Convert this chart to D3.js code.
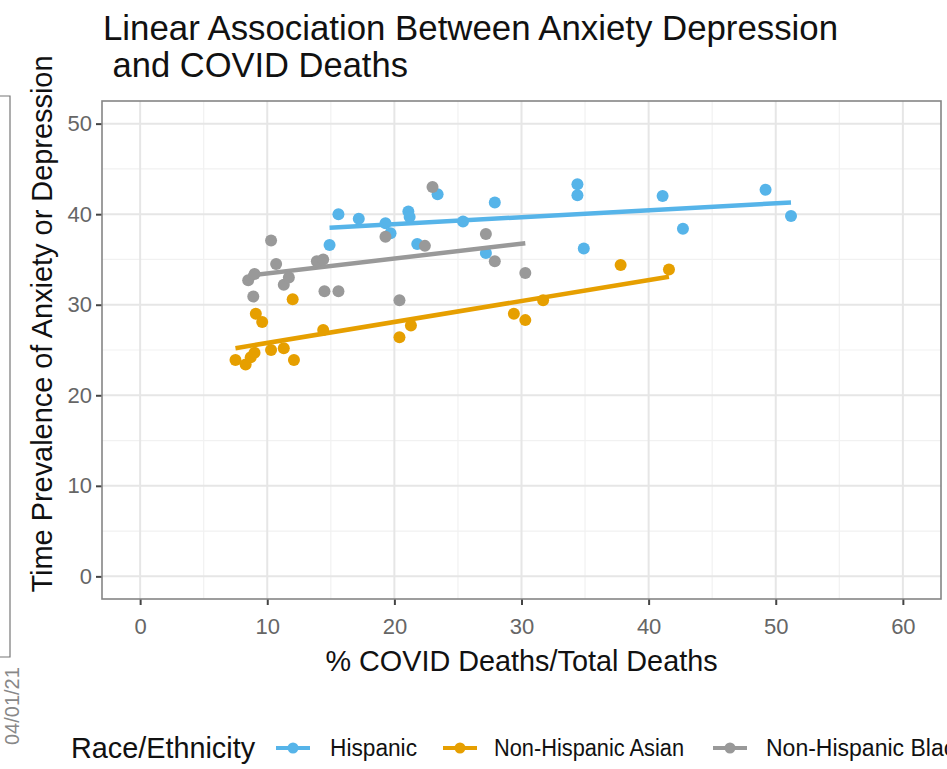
<!DOCTYPE html>
<html>
<head>
<meta charset="utf-8">
<script src="https://cdn.jsdelivr.net/npm/d3@7"></script>
<style>
  body { margin: 0; background: #fff; }
  text { font-family: "Liberation Sans", Arial, sans-serif; }
</style>
</head>
<body>
<svg id="chart" width="947" height="769"></svg>
<script>
// Series names and colours (ggplot colour-blind palette)
const seriesNames = ["Hispanic", "Non-Hispanic Asian", "Non-Hispanic Black"]
const seriesColors = ["#56B4E9", "#E69F00", "#999999"]

// Hispanic points: % covid deaths vs prevalence
const hispX = [15.6, 17.2, 14.9, 19.3, 19.7, 21.1, 21.2, 21.8, 23.4, 25.4, 27.9, 27.2, 34.4, 34.4, 34.9, 41.1, 42.7, 49.2, 51.2]
const hispY = [40.0, 39.5, 36.6, 39.0, 37.9, 40.3, 39.7, 36.7, 42.2, 39.2, 41.3, 35.7, 43.3, 42.1, 36.2, 42.0, 38.4, 42.7, 39.8]

// Non-Hispanic Asian points
const asianX = [7.5, 8.3, 8.7, 9.0, 9.1, 9.6, 10.3, 11.3, 12.0, 12.1, 14.4, 20.4, 21.3, 29.4, 30.3, 31.7, 37.8, 41.6]
const asianY = [23.9, 23.4, 24.2, 24.7, 29.0, 28.1, 25.0, 25.2, 30.6, 23.9, 27.2, 26.4, 27.7, 29.0, 28.3, 30.5, 34.4, 33.9]

// Non-Hispanic Black points
const blackX = [8.5, 8.9, 9.0, 10.3, 10.7, 11.3, 11.7, 13.9, 14.4, 14.5, 15.6, 19.3, 20.4, 22.4, 23.0, 27.2, 27.9, 30.3]
const blackY = [32.7, 30.9, 33.4, 37.1, 34.5, 32.2, 33.0, 34.8, 35.0, 31.5, 31.5, 37.5, 30.5, 36.5, 43.0, 37.8, 34.8, 33.5]

// Fitted lines (lm), value at the left and right end of each series
const fitStartY = [38.5, 25.2, 33.2]
const fitEndY = [41.3, 33.1, 36.8]

const xTicks = [0, 10, 20, 30, 40, 50, 60]
const yTicks = [0, 10, 20, 30, 40, 50]
const xMinor = [5, 15, 25, 35, 45, 55]
const yMinor = [5, 15, 25, 35, 45]

const series = [
    { xs: hispX, ys: hispY },
    { xs: asianX, ys: asianY },
    { xs: blackX, ys: blackY },
]

const svg = d3.select("#chart")

// panel geometry
const panel = { left: 102, top: 101, right: 941, bottom: 599 }
const x = d3.scaleLinear().domain([-3, 63]).range([panel.left, panel.right])
const y = d3.scaleLinear().domain([-2.5, 52.5]).range([panel.bottom, panel.top])

// Grid
const grid = svg.append("g")
grid.selectAll(".xminor").data(xMinor).enter().append("line")
    .attr("x1", d => x(d)).attr("x2", d => x(d))
    .attr("y1", panel.top).attr("y2", panel.bottom)
    .attr("stroke", "#f1f1f1").attr("stroke-width", 1.2)
grid.selectAll(".yminor").data(yMinor).enter().append("line")
    .attr("y1", d => y(d)).attr("y2", d => y(d))
    .attr("x1", panel.left).attr("x2", panel.right)
    .attr("stroke", "#f1f1f1").attr("stroke-width", 1.2)
grid.selectAll(".xmajor").data(xTicks).enter().append("line")
    .attr("x1", d => x(d)).attr("x2", d => x(d))
    .attr("y1", panel.top).attr("y2", panel.bottom)
    .attr("stroke", "#e6e6e6").attr("stroke-width", 2)
grid.selectAll(".ymajor").data(yTicks).enter().append("line")
    .attr("y1", d => y(d)).attr("y2", d => y(d))
    .attr("x1", panel.left).attr("x2", panel.right)
    .attr("stroke", "#e6e6e6").attr("stroke-width", 2)

// Axes
const xAxis = svg.append("g")
    .attr("transform", `translate(0,${panel.bottom})`)
    .call(d3.axisBottom(x).tickValues(xTicks).tickSize(6).tickPadding(13))
const yAxis = svg.append("g")
    .attr("transform", `translate(${panel.left},0)`)
    .call(d3.axisLeft(y).tickValues(yTicks).tickSize(6).tickPadding(4))
for (const ax of [xAxis, yAxis]) {
    ax.select(".domain").remove()
    ax.selectAll(".tick line").attr("stroke", "#444").attr("stroke-width", 2)
    ax.selectAll(".tick text")
        .attr("font-size", 22)
        .attr("font-family", "Liberation Sans, Arial, sans-serif")
        .attr("fill", "#666")
}

// Points and fitted lines
series.forEach((s, i) => {
    const pts = s.xs.map((v, j) => [v, s.ys[j]])
    const [x0, x1] = d3.extent(s.xs)
    svg.append("line")
        .attr("x1", x(x0)).attr("y1", y(fitStartY[i]))
        .attr("x2", x(x1)).attr("y2", y(fitEndY[i]))
        .attr("stroke", seriesColors[i])
        .attr("stroke-width", 4.5)
    svg.append("g")
        .selectAll("circle")
        .data(pts)
        .enter()
        .append("circle")
        .attr("cx", d => x(d[0]))
        .attr("cy", d => y(d[1]))
        .attr("r", 6)
        .attr("fill", seriesColors[i])
})

// Panel border
svg.append("rect")
    .attr("x", panel.left).attr("y", panel.top)
    .attr("width", panel.right - panel.left).attr("height", panel.bottom - panel.top)
    .attr("fill", "none").attr("stroke", "#858585").attr("stroke-width", 1.6)

// Title
svg.append("text").attr("x", 103).attr("y", 40)
    .attr("font-size", 34.5).attr("fill", "#111")
    .attr("textLength", 735).attr("lengthAdjust", "spacingAndGlyphs")
    .text("Linear Association Between Anxiety Depression")
svg.append("text").attr("x", 103).attr("y", 77)
    .attr("font-size", 34.5).attr("fill", "#111")
    .attr("xml:space", "preserve")
    .text(" and COVID Deaths")

// Axis titles
svg.append("text")
    .attr("x", (panel.left + panel.right) / 2).attr("y", 671)
    .attr("text-anchor", "middle").attr("font-size", 28.8).attr("fill", "#111")
    .text("% COVID Deaths/Total Deaths")
svg.append("text")
    .attr("transform", "translate(52,324) rotate(-90)")
    .attr("text-anchor", "middle").attr("font-size", 28.8).attr("fill", "#111")
    .attr("textLength", 537).attr("lengthAdjust", "spacingAndGlyphs")
    .text("Time Prevalence of Anxiety or Depression")

// Legend (last label runs off the right edge, as in the original)
const legend = svg.append("g").attr("transform", "translate(0,748)")
legend.append("text").attr("x", 71).attr("y", 10)
    .attr("font-size", 28.8).attr("fill", "#111")
    .text("Race/Ethnicity")
const keyX = [293, 460, 730]
const labelX = [330, 494, 766]
const labelLen = [87, 190, null]
seriesNames.forEach((name, i) => {
    const k = legend.append("g").attr("transform", `translate(${keyX[i]},0)`)
    k.append("line").attr("x1", -17).attr("x2", 17)
        .attr("stroke", seriesColors[i]).attr("stroke-width", 4)
    k.append("circle").attr("r", 5.5).attr("fill", seriesColors[i])
    const t = legend.append("text").attr("x", labelX[i]).attr("y", 8)
        .attr("font-size", 23).attr("fill", "#111")
        .text(name)
    if (labelLen[i]) t.attr("textLength", labelLen[i]).attr("lengthAdjust", "spacingAndGlyphs")
})

// Page edge remnants at the left
svg.append("path")
    .attr("d", "M0,96 H10 V657 H0")
    .attr("fill", "none").attr("stroke", "#777").attr("stroke-width", 1.2)
svg.append("text")
    .attr("transform", "translate(19,745) rotate(-90)")
    .attr("font-size", 20).attr("fill", "#888")
    .text("04/01/21")
</script>
</body>
</html>
